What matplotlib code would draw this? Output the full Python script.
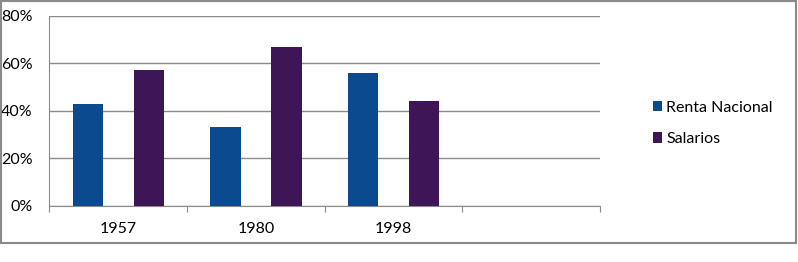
import matplotlib.pyplot as plt
from matplotlib.patches import Rectangle
from matplotlib.ticker import FuncFormatter
import numpy as np

plt.rcParams['font.family'] = ['Lato', 'DejaVu Sans']

years = ['1957', '1980', '1998', '']
renta = [43, 33, 56]
salarios = [57, 67, 44]
series_names = ['Renta Nacional', 'Salarios']
colors = ['#0B4A8E', '#3E1556']

fontsize = 11.5
width = 0.22
offset = 0.222

fig = plt.figure(figsize=(7.98, 2.62), dpi=100)
ax = fig.add_axes([0.062, 0.215, 0.690, 0.725])

x = np.arange(len(renta))
ax.bar(x - offset, renta, width=width, color=colors[0], label=series_names[0], zorder=3)
ax.bar(x + offset, salarios, width=width, color=colors[1], label=series_names[1], zorder=3)

ax.set_xlim(-0.5, len(years) - 0.5)
ax.set_ylim(0, 80)
ax.set_yticks([0, 20, 40, 60, 80])
ax.yaxis.set_major_formatter(FuncFormatter(lambda v, p: '%d%%' % v))
ax.grid(axis='y', color='#8a8a8a', linewidth=1, zorder=0)
ax.tick_params(axis='y', length=0, pad=12, labelsize=fontsize)

ax.set_xticks(np.arange(len(years) + 1) - 0.5)
ax.set_xticklabels([])
ax.set_xticks(np.arange(len(years)), minor=True)
ax.set_xticklabels(years, minor=True)
ax.tick_params(axis='x', which='major', length=4, color='#8a8a8a', direction='out')
ax.tick_params(axis='x', which='minor', length=0, pad=12, labelsize=fontsize)

for s in ['top', 'right']:
    ax.spines[s].set_visible(False)
for s in ['left', 'bottom']:
    ax.spines[s].set_color('#8a8a8a')

fig.legend(loc='center left', bbox_to_anchor=(0.800, 0.529), frameon=False,
           fontsize=fontsize, handlelength=0.6, handleheight=0.6,
           handletextpad=0.25, labelspacing=1.1)

fig.patches.append(Rectangle((1 / 798, 19 / 262), 795 / 798, 242 / 262,
                             transform=fig.transFigure, fill=False,
                             edgecolor='#8a8a8a', linewidth=1.5))

plt.savefig('out.png', dpi=100)
